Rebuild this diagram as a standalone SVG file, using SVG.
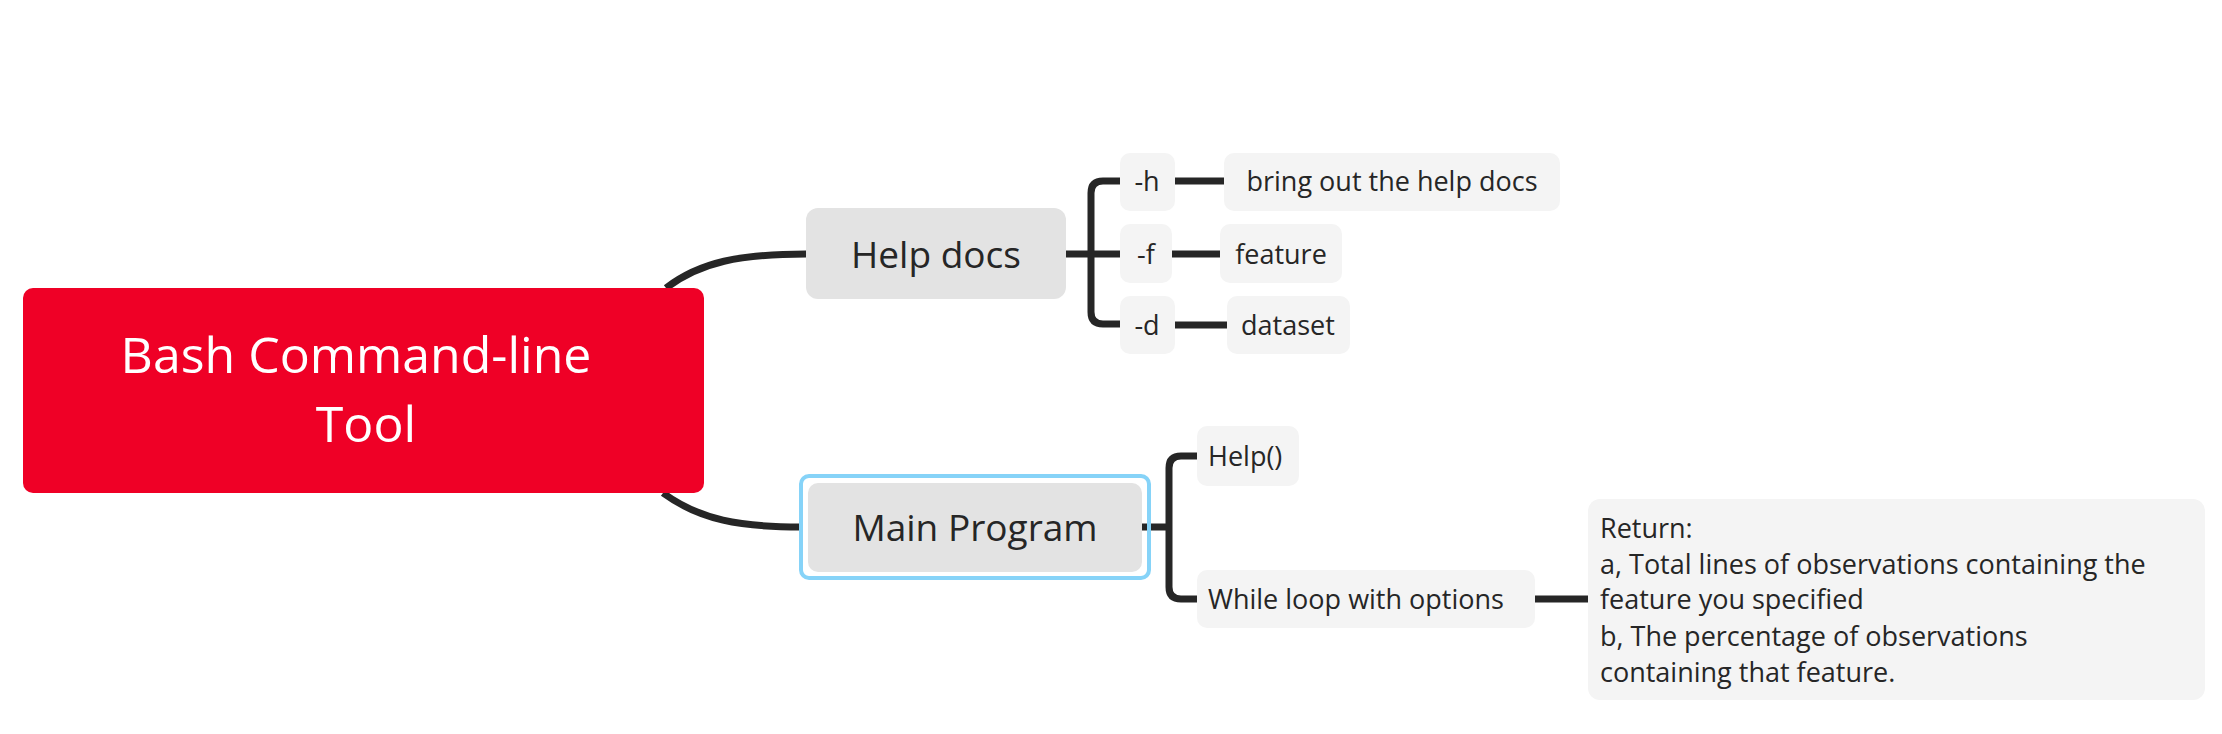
<svg xmlns="http://www.w3.org/2000/svg" width="2222" height="734" viewBox="0 0 2222 734">
<style>
text{font-family:"Open Sans","Liberation Sans",sans-serif;fill:#262626}
.c{fill:none;stroke:#262626;stroke-width:7;stroke-linecap:butt}
.s{fill:#f4f4f4}
.m{fill:#e3e3e3}
.t{font-size:27px}
</style>
<rect width="2222" height="734" fill="#fff"/>
<g id="connectors">
<path class="c" d="M666,288 C700,262 740,254 806,254"/>
<path class="c" d="M663,493 C700,520 740,527 801,527"/>
<path class="c" d="M1066,254 H1091 M1120,181 H1103 Q1091,181 1091,193 V312 Q1091,324 1103,324 H1120 M1091,254 H1120"/>
<path class="c" d="M1175,181 H1224 M1172,254 H1220 M1175,325 H1227"/>
<path class="c" d="M1142,527 H1169 M1197,456 H1181 Q1169,456 1169,468 V587 Q1169,599 1181,599 H1197"/>
<path class="c" d="M1535,599 H1588"/>
</g>
<g id="root"><rect x="23" y="288" width="681" height="205" rx="10" fill="#ef0026"/>
<text x="356" y="373" text-anchor="middle" font-size="50" font-weight="500" style="fill:#fff">Bash Command-line</text>
<text x="366" y="442" text-anchor="middle" font-size="50" font-weight="500" style="fill:#fff">Tool</text></g>
<g id="help-docs"><rect class="m" x="806" y="208" width="260" height="91" rx="12"/><text x="936" y="268" text-anchor="middle" font-size="37">Help docs</text></g>
<g id="main-program"><rect x="801" y="476" width="348" height="102" rx="8" fill="none" stroke="#86d3f8" stroke-width="4"/><rect class="m" x="808" y="483" width="334" height="89" rx="10"/><text x="975" y="541" text-anchor="middle" font-size="37">Main Program</text></g>
<g id="h"><rect class="s" x="1120" y="153" width="55" height="58" rx="10"/><text class="t" x="1147" y="191" text-anchor="middle">-h</text></g>
<g id="f"><rect class="s" x="1120" y="224" width="52" height="59" rx="10"/><text class="t" x="1146" y="264" text-anchor="middle">-f</text></g>
<g id="d"><rect class="s" x="1120" y="296" width="55" height="58" rx="10"/><text class="t" x="1147" y="335" text-anchor="middle">-d</text></g>
<g id="bring"><rect class="s" x="1224" y="153" width="336" height="58" rx="10"/><text class="t" x="1392" y="191" text-anchor="middle">bring out the help docs</text></g>
<g id="feature"><rect class="s" x="1220" y="224" width="122" height="59" rx="10"/><text class="t" x="1281" y="264" text-anchor="middle">feature</text></g>
<g id="dataset"><rect class="s" x="1227" y="296" width="123" height="58" rx="10"/><text class="t" x="1288" y="335" text-anchor="middle">dataset</text></g>
<g id="helpfn"><rect class="s" x="1197" y="426" width="102" height="60" rx="10"/><text class="t" x="1208" y="466">Help()</text></g>
<g id="while"><rect class="s" x="1197" y="570" width="338" height="58" rx="10"/><text class="t" x="1208" y="609">While loop with options</text></g>
<g id="return"><rect class="s" x="1588" y="499" width="617" height="201" rx="12"/>
<text class="t" x="1600" y="538">Return:</text>
<text class="t" x="1600" y="574">a, Total lines of observations containing the</text>
<text class="t" x="1600" y="609">feature you specified</text>
<text class="t" x="1600" y="646">b, The percentage of observations</text>
<text class="t" x="1600" y="682">containing that feature.</text></g>
</svg>
